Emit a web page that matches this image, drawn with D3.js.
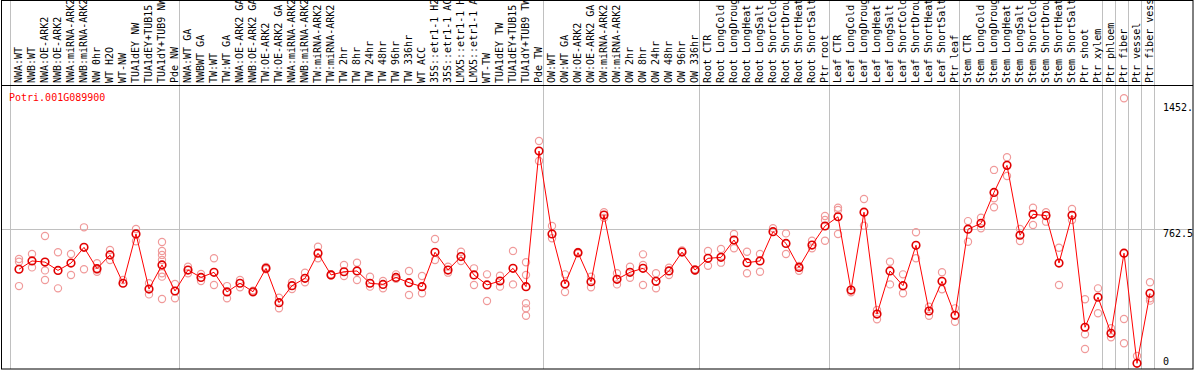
<!DOCTYPE html>
<head>
<meta charset="utf-8">
<title>Potri.001G089900</title>
<script src="https://cdn.jsdelivr.net/npm/d3@7"></script>
<style>
  body { margin: 0; background: #fff; }
  text { font-family: "DejaVu Sans Mono", monospace; font-size: 10px; }
</style>
</head>
<body>
<svg width="1194" height="370"></svg>
<script>
var gene = 'Potri.001G089900'

var labels = [
  'NWA:WT','NWB:WT','NWA:OE-ARK2','NWB:OE-ARK2','NWA:miRNA-ARK2','NWB:miRNA-ARK2','NW 0hr','WT H2O','WT-NW','TUA1dEY NW','TUA1dEY+TUB15','TUA1dY+TUB9 NW','Pde NW',
  'NWA:WT GA','NWBWT GA','TW:WT','TW:WT GA','NWA:OE-ARK2 GA','NWB:OE-ARK2 GA','TW:OE-ARK2','TW:OE-ARK2 GA','NWA:miRNA-ARK2','NWB:miRNA-ARK2','TW:miRNA-ARK2','TW:miRNA-ARK2',
  'TW 2hr','TW 8hr','TW 24hr','TW 48hr','TW 96hr','TW 336hr','WT ACC','35S::etr1-1 H2','35S::etr1-1 AC','LMX5::etr1-1 H','LMX5::etr1-1 A','WT-TW','TUA1dEY TW','TUA1dEY+TUB15','TUA1dY+TUB9 TW','Pde TW',
  'OW:WT','OW:WT GA','OW:OE-ARK2','OW:OE-ARK2 GA','OW:miRNA-ARK2','OW:miRNA-ARK2','OW 2hr','OW 8hr','OW 24hr','OW 48hr','OW 96hr','OW 336hr',
  'Root CTR','Root LongCold','Root LongDroug','Root LongHeat','Root LongSalt','Root ShortCold','Root ShortDrou','Root ShortHeat','Root ShortSalt','Ptr root',
  'Leaf CTR','Leaf LongCold','Leaf LongDroug','Leaf LongHeat','Leaf LongSalt','Leaf ShortCold','Leaf ShortDrou','Leaf ShortHeat','Leaf ShortSalt','Ptr leaf',
  'Stem CTR','Stem LongCold','Stem LongDroug','Stem LongHeat','Stem LongSalt','Stem ShortCold','Stem ShortDrou','Stem ShortHeat','Stem ShortSalt','Ptr shoot','Ptr xylem',
  'Ptr phloem','Ptr fiber','Ptr vessel','Ptr fiber vess'
]

// columns per group, a grey line is drawn before each one
var groupSizes = [13, 28, 12, 10, 10, 11, 1, 1, 1, 1]

var means = [
  548,592,586,542,581,664,551,624,474,735,443,571,433,
  544,505,532,428,474,429,553,371,461,500,633,518,535,539,474,468,505,477,456,638,544,615,518,465,486,553,456,1174,
  735,470,636,482,835,495,532,553,484,539,639,544,
  606,611,703,583,592,747,685,558,676,777,
  826,438,850,311,539,461,675,327,484,304,
  760,791,955,1098,728,839,832,581,834,241,400,
  209,633,50,421
]

var reps = [
  [602,588,459],[629,558],[724,542,491],[638,447],[629,518],[770,548],[580,535,545],[650,597],[491],[761,696],[474,415],[692,645,624,597,527,509,391],[470,394],
  [562,527],[523,486],[606,465],[459,394],[491,453],[435,425],[560,548],[397,341],[479,443],[530,479],[667,606],[515,522],[571,512],[583,491],[509,456],[486,447],
  [521,497],[539,412],[512,421],[708,597],[562,530],[641,592],[553,465],[521,380],[514,456],[645,468],[585,518,368,341,302],[1227,1121],
  [777,712],[521,428],[640,632],[509,453],[850,820],[527,468],[562,503],[627,571,465],[527,447],[556,518],[647],[548,540],
  [645,567],[655,583],[735,659],[641,527],[629,535],[765],[738,629],[565,540],[699,659],[830,809,699],
  [874,862,735],[426],[920,779],[332,283],[588,468],[521,421],[744,606],[350,302],[532,442],[341,270],
  [803,694],[821,765],[1074,924,876],[1141,1042],[761,698],[874,782],[850,800],[662,465],[867,809],[389,204,126],[447,315],
  [236,188],[1453,285,156],[89],[479,394,382]
]

var yTicks = [1452, 762.5, 73]
  , yTickText = ['1452.', '762.5', '0']

var W = 1194, H = 370
  , headerH = 85
  , n = labels.length

var x = d3.scaleLinear().domain([0, n]).range([10, 10 + 13 * n])
var y = d3.scaleLinear().domain([73, 1452]).range([359, 98.5])
var cx = function (i) { return x(i) + 9 }

var svg = d3.select('svg')

// group separators
var starts = [0]
groupSizes.forEach(function (s, k) { starts.push(starts[k] + s) })
svg.selectAll('line.grp').data(starts).enter().append('line')
  .attr('x1', function (d) { return Math.round(x(d)) + 0.5 })
  .attr('x2', function (d) { return Math.round(x(d)) + 0.5 })
  .attr('y1', 0).attr('y2', 369)
  .attr('stroke', '#c0c0c0')

// midline
svg.append('line')
  .attr('x1', 1).attr('x2', 1193)
  .attr('y1', Math.round(y(762.5)) + 0.5).attr('y2', Math.round(y(762.5)) + 0.5)
  .attr('stroke', '#c0c0c0')

// frame
svg.append('rect').attr('x', 1.5).attr('y', 0.5).attr('width', 1191.5).attr('height', 368.5)
  .attr('fill', 'none').attr('stroke', '#000')
svg.append('line').attr('x1', 1).attr('x2', 1193).attr('y1', headerH + 0.5).attr('y2', headerH + 0.5)
  .attr('stroke', '#000')

// header labels
svg.selectAll('text.lab').data(labels).enter().append('text')
  .attr('class', 'lab')
  .attr('transform', function (d, i) { return 'translate(' + (cx(i) + 2.5) + ',83) rotate(-90)' })
  .text(function (d) { return d })

svg.append('text').attr('x', 9).attr('y', 101).attr('fill', '#f00').text(gene)

// y labels
var off = [12, 8, 6]
svg.selectAll('text.yt').data(yTicks).enter().append('text')
  .attr('x', 1163)
  .attr('y', function (d, i) { return y(d) + off[i] })
  .text(function (d, i) { return yTickText[i] })

// replicates
var pts = []
reps.forEach(function (r, i) { r.forEach(function (v) { pts.push([i, v]) }) })
svg.selectAll('circle.rep').data(pts).enter().append('circle')
  .attr('cx', function (d) { return cx(d[0]) })
  .attr('cy', function (d) { return y(d[1]) })
  .attr('r', 3.6)
  .attr('fill', 'none').attr('stroke', '#f09a9a').attr('stroke-width', 1.2)

var line = d3.line()
  .x(function (d, i) { return cx(i) })
  .y(function (d) { return y(d) })

svg.append('path').datum(means).attr('d', line)
  .attr('fill', 'none').attr('stroke', '#f00').attr('stroke-width', 1)

svg.selectAll('circle.mean').data(means).enter().append('circle')
  .attr('cx', function (d, i) { return cx(i) })
  .attr('cy', function (d) { return y(d) })
  .attr('r', 3.8)
  .attr('fill', 'none').attr('stroke', '#e00000').attr('stroke-width', 1.6)
</script>
</body>
